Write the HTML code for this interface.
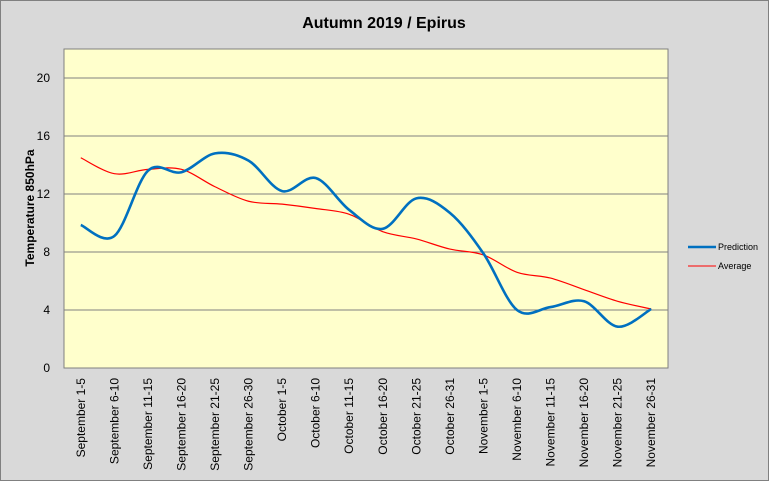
<!DOCTYPE html>
<html><head><meta charset="utf-8"><style>
body{margin:0;background:#d9d9d9;}
svg{display:block;font-family:"Liberation Sans",sans-serif;}
</style></head><body>
<svg id="c" width="769" height="481">
<rect x="0.5" y="0.5" width="768" height="480" fill="#d9d9d9" stroke="#808080"/>
<text x="384" y="28" text-anchor="middle" font-size="16" font-weight="bold">Autumn 2019 / Epirus</text>
<rect x="64" y="49" width="604" height="319" fill="#ffffcc" stroke="#808080"/>
<g id="grid"></g><g id="ylab"></g><g id="xlab"></g><g id="series"></g>
<text transform="translate(34,208) rotate(-90)" text-anchor="middle" font-size="12" font-weight="bold">Temperature 850hPa</text>
<g>
<line x1="688" y1="247" x2="716" y2="247" stroke="#0070c0" stroke-width="2.5"/>
<text x="718" y="250" font-size="9">Prediction</text>
<line x1="688" y1="266" x2="716" y2="266" stroke="#ff0000" stroke-width="1"/>
<text x="718" y="269" font-size="9">Average</text>
</g>
</svg>
<script>
const categories=["September 1-5","September 6-10","September 11-15","September 16-20","September 21-25","September 26-30","October 1-5","October 6-10","October 11-15","October 16-20","October 21-25","October 26-31","November 1-5","November 6-10","November 11-15","November 16-20","November 21-25","November 26-31"];
const prediction=[9.86,9.1,13.6,13.5,14.8,14.3,12.2,13.1,10.9,9.6,11.7,10.7,7.9,4.0,4.2,4.6,2.85,4.07];
const average=[14.5,13.4,13.7,13.7,12.5,11.5,11.3,11.0,10.6,9.4,8.9,8.2,7.8,6.6,6.2,5.4,4.6,4.07];
const yTicks=[0,4,8,12,16,20];
const NS="http://www.w3.org/2000/svg";
const L=64,R=668,B=368;
const xs=i=>L+(R-L)/categories.length*(i+0.5);
const ys=v=>B-v*14.5;
function mk(t,a,p){const e=document.createElementNS(NS,t);for(const k in a)e.setAttribute(k,a[k]);document.getElementById(p).appendChild(e);return e;}
yTicks.forEach(v=>{
 if(v>0){const g=mk('line',{x1:L,x2:R,y1:ys(v),y2:ys(v),stroke:'#808080','stroke-width':1},'grid');
 
 }
 const t=mk('text',{x:50,y:ys(v)+4,'text-anchor':'end','font-size':12},'ylab');t.textContent=v;
 
 
});
categories.forEach((c,i)=>{
 const t=mk('text',{transform:`translate(${xs(i)+4},378) rotate(-90)`,'text-anchor':'end','font-size':12},'xlab');t.textContent=c;
 
 
});
function smooth(vals){
 const p=vals.map((v,i)=>[xs(i),ys(v)]);let d=`M${p[0][0]},${p[0][1]}`;
 for(let i=0;i<p.length-1;i++){const p0=p[i-1]||p[i],p1=p[i],p2=p[i+1],p3=p[i+2]||p2;
 const c1=[p1[0]+(p2[0]-p0[0])/6,p1[1]+(p2[1]-p0[1])/6],c2=[p2[0]-(p3[0]-p1[0])/6,p2[1]-(p3[1]-p1[1])/6];
 d+=`C${c1[0]},${c1[1]} ${c2[0]},${c2[1]} ${p2[0]},${p2[1]}`;}
 return d;}
const a=mk('path',{d:smooth(average),fill:'none',stroke:'#ff0000','stroke-width':1.2},'series');


const p=mk('path',{d:smooth(prediction),fill:'none',stroke:'#0070c0','stroke-width':2.6},'series');


</script>
</body></html>
